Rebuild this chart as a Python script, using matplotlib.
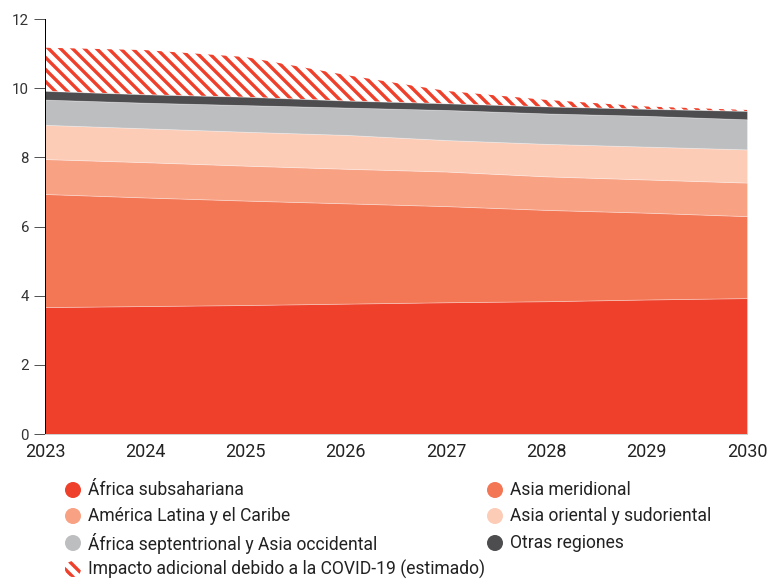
"""
Stacked area chart: projected values by region 2023-2030, with the extra
COVID-19 impact drawn as a hatched band on top.
"""

import matplotlib
matplotlib.use("Agg")
import matplotlib.pyplot as plt
from matplotlib.patches import Circle

plt.rcParams["font.family"] = ["Roboto", "DejaVu Sans"]
plt.rcParams["hatch.linewidth"] = 3.4

years = [2023, 2024, 2025, 2026, 2027, 2028, 2029, 2030]

africa_ss = [3.67, 3.70, 3.73, 3.77, 3.81, 3.84, 3.89, 3.93]
asia_south = [3.27, 3.14, 3.02, 2.90, 2.78, 2.64, 2.51, 2.37]
latam = [1.01, 1.02, 1.01, 1.00, 1.00, 0.97, 0.96, 0.97]
asia_east = [0.99, 0.98, 0.98, 0.98, 0.91, 0.94, 0.95, 0.96]
africa_north = [0.73, 0.74, 0.77, 0.79, 0.87, 0.88, 0.89, 0.87]
others = [0.25, 0.24, 0.24, 0.20, 0.19, 0.20, 0.20, 0.24]
covid_extra = [1.25, 1.28, 1.15, 0.74, 0.36, 0.19, 0.07, 0.03]

labels = [
    "África subsahariana",
    "Asia meridional",
    "América Latina y el Caribe",
    "Asia oriental y sudoriental",
    "África septentrional y Asia occidental",
    "Otras regiones",
]
covid_label = "Impacto adicional debido a la COVID-19 (estimado)"
colors = ["#EE402B", "#F37655", "#F8A183", "#FCCCB7", "#BDBEC0", "#4D4D4F"]
red = "#EE402B"

series = [africa_ss, asia_south, latam, asia_east, africa_north, others]

DPI = 72
fig = plt.figure(figsize=(782 / DPI, 579 / DPI), dpi=DPI)
ax = fig.add_axes([45 / 782, 1 - 434 / 579, (747 - 45) / 782, (434 - 19) / 579])

base = [0.0] * len(years)
for vals, col in zip(series, colors):
    top = [b + v for b, v in zip(base, vals)]
    ax.fill_between(years, base, top, facecolor=col, edgecolor=(1, 1, 1, 0.35), linewidth=0.8)
    base = top

covid_top = [b + v for b, v in zip(base, covid_extra)]
ax.fill_between(years, base, covid_top, facecolor="white", edgecolor=red, linewidth=0, hatch="\\\\")

ax.set_xlim(2023, 2030)
ax.set_ylim(0, 12)
ax.set_yticks([0, 2, 4, 6, 8, 10, 12])
ax.set_xticks(years)
ax.tick_params(axis="y", length=11, width=1, color="#555555", labelsize=15, labelcolor="#333333", pad=5)
ax.tick_params(axis="x", length=0, labelsize=18, labelcolor="#222222", pad=9)
for side in ("top", "right"):
    ax.spines[side].set_visible(False)
ax.spines["left"].set_color("black")
ax.spines["left"].set_linewidth(1)
ax.spines["bottom"].set_color("#D0D0D0")
ax.spines["bottom"].set_linewidth(1)

# legend drawn by hand in pixel coordinates (two columns, last row single)
lax = fig.add_axes([0, 0, 1, 115 / 579])
lax.set_xlim(0, 782)
lax.set_ylim(579, 464)
lax.axis("off")

rows = [490, 516, 543]
col_x = [73, 495]
for i, (lab, col) in enumerate(zip(labels, colors)):
    cx = col_x[i % 2]
    cy = rows[i // 2]
    lax.add_patch(Circle((cx, cy), 8, facecolor=col, edgecolor="none"))
    lax.text(cx + 15, cy, lab, fontsize=17.5, va="center", ha="left", color="#222222")

lax.add_patch(Circle((col_x[0], 569), 8, facecolor="white", edgecolor=red, linewidth=0, hatch="\\\\"))
lax.text(col_x[0] + 15, 569, covid_label, fontsize=17.5, va="center", ha="left", color="#222222")

fig.savefig("out.png", dpi=DPI)
